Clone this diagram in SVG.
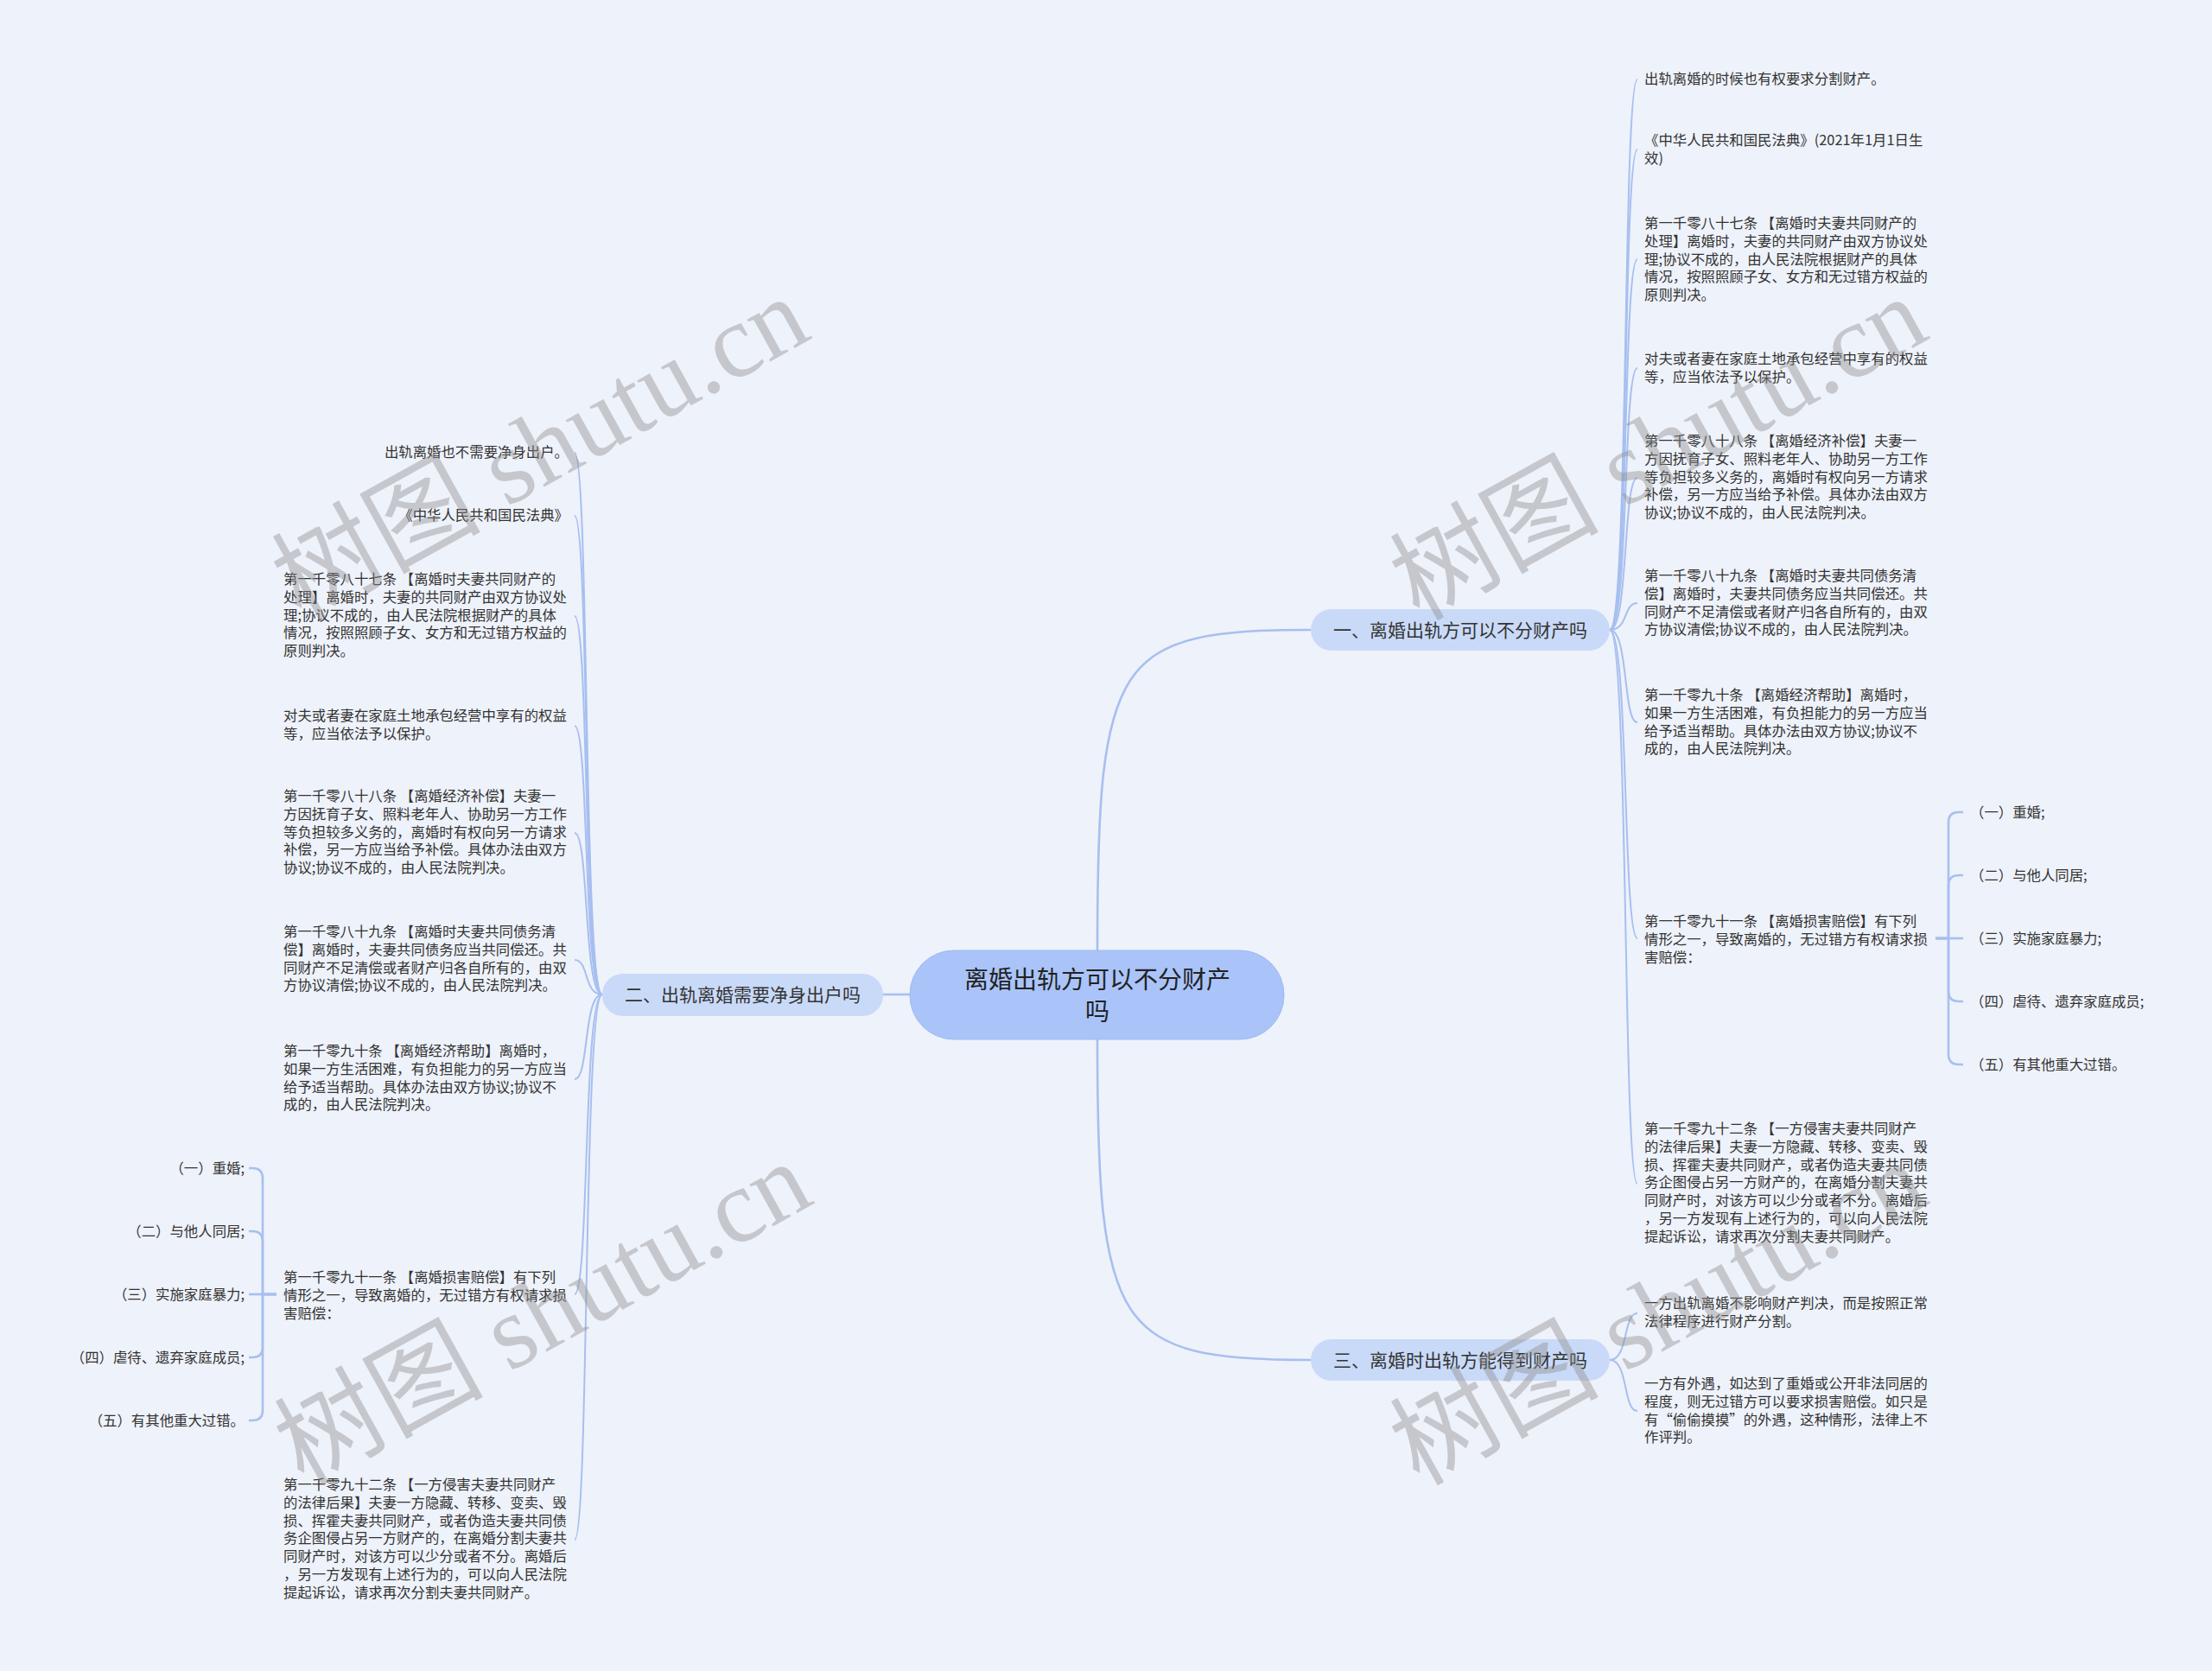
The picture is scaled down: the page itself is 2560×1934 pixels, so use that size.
<svg xmlns="http://www.w3.org/2000/svg" width="2560" height="1934" viewBox="0 0 2560 1934">
<style>
.t{font-family:"Noto Sans CJK SC","Liberation Sans",sans-serif;font-size:16.4px;fill:#333}
.br{font-family:"Noto Sans CJK SC","Liberation Sans",sans-serif;font-size:21px;fill:#333}
.ct{font-family:"Noto Sans CJK SC","Liberation Sans",sans-serif;font-size:28px;fill:#222}
.c{fill:none;stroke:#a7bff0;stroke-width:2}
.cm{fill:none;stroke:#a7bff0;stroke-width:2.6}
.wm{font-family:"Liberation Serif","Noto Sans CJK SC",serif;font-size:121px;fill:#8e8e8e;opacity:0.42}
</style>
<rect x="0" y="0" width="2560" height="1934" fill="#eef2fa"/>
<g id="connectors">
<path class="cm" d="M1270,1100 C1270,760 1290,729 1517,729"/>
<path class="cm" d="M1270,1203 C1270,1540 1290,1574 1517,1574"/>
<path class="cm" d="M1053,1151 L1022,1151"/>
<path class="c" d="M1863,729 C1885,729 1878,92 1895,92"/>
<path class="c" d="M1863,729 C1885,729 1878,173 1895,173"/>
<path class="c" d="M1863,729 C1885,729 1878,300 1895,300"/>
<path class="c" d="M1863,729 C1885,729 1878,426 1895,426"/>
<path class="c" d="M1863,729 C1885,729 1878,553 1895,553"/>
<path class="c" d="M1863,729 C1885,729 1878,698 1895,698"/>
<path class="c" d="M1863,729 C1885,729 1878,836 1895,836"/>
<path class="c" d="M1863,729 C1885,729 1878,1086 1895,1086"/>
<path class="c" d="M1863,729 C1885,729 1878,1370 1895,1370"/>
<path class="c" d="M1863,1574 C1885,1574 1878,1520 1895,1520"/>
<path class="c" d="M1863,1574 C1885,1574 1878,1633 1895,1633"/>
<path class="c" d="M697,1151 C675,1151 682,524 665,524"/>
<path class="c" d="M697,1151 C675,1151 682,597 665,597"/>
<path class="c" d="M697,1151 C675,1151 682,713 665,713"/>
<path class="c" d="M697,1151 C675,1151 682,840 665,840"/>
<path class="c" d="M697,1151 C675,1151 682,964 665,964"/>
<path class="c" d="M697,1151 C675,1151 682,1111 665,1111"/>
<path class="c" d="M697,1151 C675,1151 682,1249 665,1249"/>
<path class="c" d="M697,1151 C675,1151 682,1498 665,1498"/>
<path class="c" d="M697,1151 C675,1151 682,1782 665,1782"/>
<path class="cm" d="M2240,1086 H2255 V952 Q2255,940 2267,940 H2272"/>
<path class="cm" d="M2240,1086 H2255 V1025 Q2255,1013 2267,1013 H2272"/>
<path class="cm" d="M2240,1086 H2272"/>
<path class="cm" d="M2240,1086 H2255 V1147 Q2255,1159 2267,1159 H2272"/>
<path class="cm" d="M2240,1086 H2255 V1220 Q2255,1232 2267,1232 H2272"/>
<path class="cm" d="M320,1498 H304 V1364 Q304,1352 292,1352 H288"/>
<path class="cm" d="M320,1498 H304 V1437 Q304,1425 292,1425 H288"/>
<path class="cm" d="M320,1498 H288"/>
<path class="cm" d="M320,1498 H304 V1559 Q304,1571 292,1571 H288"/>
<path class="cm" d="M320,1498 H304 V1632 Q304,1644 292,1644 H288"/>
</g>
<g id="center">
<rect x="1053" y="1100" width="433" height="103" rx="51" fill="#aac4fa" stroke="#9fbaf3" stroke-width="1"/>
<text class="ct" x="1270" y="1144" text-anchor="middle">离婚出轨方可以不分财产</text>
<text class="ct" x="1270" y="1181" text-anchor="middle">吗</text>
</g>
<g id="branch1">
<rect x="1517" y="705" width="346" height="48" rx="24" fill="#c9daf8"/>
<text class="br" x="1690" y="737" text-anchor="middle">一、离婚出轨方可以不分财产吗</text>
</g>
<g id="branch2">
<rect x="697" y="1127" width="325" height="49" rx="24" fill="#c9daf8"/>
<text class="br" x="859.5" y="1159" text-anchor="middle">二、出轨离婚需要净身出户吗</text>
</g>
<g id="branch3">
<rect x="1517" y="1550" width="346" height="48" rx="24" fill="#c9daf8"/>
<text class="br" x="1690" y="1582" text-anchor="middle">三、离婚时出轨方能得到财产吗</text>
</g>
<g id="r1"><text class="t" x="1903" y="97">出轨离婚的时候也有权要求分割财产。</text></g>
<g id="r2"><text class="t" x="1903" y="168"><tspan x="1903">《中华人民共和国民法典》(2021年1月1日生</tspan><tspan x="1903" dy="20.8">效)</tspan></text></g>
<g id="r3"><text class="t" x="1903" y="264"><tspan x="1903">第一千零八十七条 【离婚时夫妻共同财产的</tspan><tspan x="1903" dy="20.8">处理】离婚时，夫妻的共同财产由双方协议处</tspan><tspan x="1903" dy="20.8">理;协议不成的，由人民法院根据财产的具体</tspan><tspan x="1903" dy="20.8">情况，按照照顾子女、女方和无过错方权益的</tspan><tspan x="1903" dy="20.8">原则判决。</tspan></text></g>
<g id="r4"><text class="t" x="1903" y="421"><tspan x="1903">对夫或者妻在家庭土地承包经营中享有的权益</tspan><tspan x="1903" dy="20.8">等，应当依法予以保护。</tspan></text></g>
<g id="r5"><text class="t" x="1903" y="516"><tspan x="1903">第一千零八十八条 【离婚经济补偿】夫妻一</tspan><tspan x="1903" dy="20.8">方因抚育子女、照料老年人、协助另一方工作</tspan><tspan x="1903" dy="20.8">等负担较多义务的，离婚时有权向另一方请求</tspan><tspan x="1903" dy="20.8">补偿，另一方应当给予补偿。具体办法由双方</tspan><tspan x="1903" dy="20.8">协议;协议不成的，由人民法院判决。</tspan></text></g>
<g id="r6"><text class="t" x="1903" y="672"><tspan x="1903">第一千零八十九条 【离婚时夫妻共同债务清</tspan><tspan x="1903" dy="20.8">偿】离婚时，夫妻共同债务应当共同偿还。共</tspan><tspan x="1903" dy="20.8">同财产不足清偿或者财产归各自所有的，由双</tspan><tspan x="1903" dy="20.8">方协议清偿;协议不成的，由人民法院判决。</tspan></text></g>
<g id="r7"><text class="t" x="1903" y="810"><tspan x="1903">第一千零九十条 【离婚经济帮助】离婚时，</tspan><tspan x="1903" dy="20.8">如果一方生活困难，有负担能力的另一方应当</tspan><tspan x="1903" dy="20.8">给予适当帮助。具体办法由双方协议;协议不</tspan><tspan x="1903" dy="20.8">成的，由人民法院判决。</tspan></text></g>
<g id="r8"><text class="t" x="1903" y="1072"><tspan x="1903">第一千零九十一条 【离婚损害赔偿】有下列</tspan><tspan x="1903" dy="20.8">情形之一，导致离婚的，无过错方有权请求损</tspan><tspan x="1903" dy="20.8">害赔偿：</tspan></text></g>
<g id="r8a"><text class="t" x="2280" y="946">（一）重婚;</text></g>
<g id="r8b"><text class="t" x="2280" y="1019">（二）与他人同居;</text></g>
<g id="r8c"><text class="t" x="2280" y="1092">（三）实施家庭暴力;</text></g>
<g id="r8d"><text class="t" x="2280" y="1165">（四）虐待、遗弃家庭成员;</text></g>
<g id="r8e"><text class="t" x="2280" y="1238">（五）有其他重大过错。</text></g>
<g id="r9"><text class="t" x="1903" y="1312"><tspan x="1903">第一千零九十二条 【一方侵害夫妻共同财产</tspan><tspan x="1903" dy="20.8">的法律后果】夫妻一方隐藏、转移、变卖、毁</tspan><tspan x="1903" dy="20.8">损、挥霍夫妻共同财产，或者伪造夫妻共同债</tspan><tspan x="1903" dy="20.8">务企图侵占另一方财产的，在离婚分割夫妻共</tspan><tspan x="1903" dy="20.8">同财产时，对该方可以少分或者不分。离婚后</tspan><tspan x="1903" dy="20.8">，另一方发现有上述行为的，可以向人民法院</tspan><tspan x="1903" dy="20.8">提起诉讼，请求再次分割夫妻共同财产。</tspan></text></g>
<g id="r10"><text class="t" x="1903" y="1514"><tspan x="1903">一方出轨离婚不影响财产判决，而是按照正常</tspan><tspan x="1903" dy="20.8">法律程序进行财产分割。</tspan></text></g>
<g id="r11"><text class="t" x="1903" y="1607"><tspan x="1903">一方有外遇，如达到了重婚或公开非法同居的</tspan><tspan x="1903" dy="20.8">程度，则无过错方可以要求损害赔偿。如只是</tspan><tspan x="1903" dy="20.8">有“偷偷摸摸”的外遇，这种情形，法律上不</tspan><tspan x="1903" dy="20.8">作评判。</tspan></text></g>
<g id="l1"><text class="t" x="658" y="529" text-anchor="end">出轨离婚也不需要净身出户。</text></g>
<g id="l2"><text class="t" x="658" y="602" text-anchor="end">《中华人民共和国民法典》</text></g>
<g id="l3"><text class="t" x="328" y="676"><tspan x="328">第一千零八十七条 【离婚时夫妻共同财产的</tspan><tspan x="328" dy="20.8">处理】离婚时，夫妻的共同财产由双方协议处</tspan><tspan x="328" dy="20.8">理;协议不成的，由人民法院根据财产的具体</tspan><tspan x="328" dy="20.8">情况，按照照顾子女、女方和无过错方权益的</tspan><tspan x="328" dy="20.8">原则判决。</tspan></text></g>
<g id="l4"><text class="t" x="328" y="834"><tspan x="328">对夫或者妻在家庭土地承包经营中享有的权益</tspan><tspan x="328" dy="20.8">等，应当依法予以保护。</tspan></text></g>
<g id="l5"><text class="t" x="328" y="927"><tspan x="328">第一千零八十八条 【离婚经济补偿】夫妻一</tspan><tspan x="328" dy="20.8">方因抚育子女、照料老年人、协助另一方工作</tspan><tspan x="328" dy="20.8">等负担较多义务的，离婚时有权向另一方请求</tspan><tspan x="328" dy="20.8">补偿，另一方应当给予补偿。具体办法由双方</tspan><tspan x="328" dy="20.8">协议;协议不成的，由人民法院判决。</tspan></text></g>
<g id="l6"><text class="t" x="328" y="1084"><tspan x="328">第一千零八十九条 【离婚时夫妻共同债务清</tspan><tspan x="328" dy="20.8">偿】离婚时，夫妻共同债务应当共同偿还。共</tspan><tspan x="328" dy="20.8">同财产不足清偿或者财产归各自所有的，由双</tspan><tspan x="328" dy="20.8">方协议清偿;协议不成的，由人民法院判决。</tspan></text></g>
<g id="l7"><text class="t" x="328" y="1222"><tspan x="328">第一千零九十条 【离婚经济帮助】离婚时，</tspan><tspan x="328" dy="20.8">如果一方生活困难，有负担能力的另一方应当</tspan><tspan x="328" dy="20.8">给予适当帮助。具体办法由双方协议;协议不</tspan><tspan x="328" dy="20.8">成的，由人民法院判决。</tspan></text></g>
<g id="l8"><text class="t" x="328" y="1484"><tspan x="328">第一千零九十一条 【离婚损害赔偿】有下列</tspan><tspan x="328" dy="20.8">情形之一，导致离婚的，无过错方有权请求损</tspan><tspan x="328" dy="20.8">害赔偿：</tspan></text></g>
<g id="l8a"><text class="t" x="283" y="1358" text-anchor="end">（一）重婚;</text></g>
<g id="l8b"><text class="t" x="283" y="1431" text-anchor="end">（二）与他人同居;</text></g>
<g id="l8c"><text class="t" x="283" y="1504" text-anchor="end">（三）实施家庭暴力;</text></g>
<g id="l8d"><text class="t" x="283" y="1577" text-anchor="end">（四）虐待、遗弃家庭成员;</text></g>
<g id="l8e"><text class="t" x="283" y="1650" text-anchor="end">（五）有其他重大过错。</text></g>
<g id="l9"><text class="t" x="328" y="1724"><tspan x="328">第一千零九十二条 【一方侵害夫妻共同财产</tspan><tspan x="328" dy="20.8">的法律后果】夫妻一方隐藏、转移、变卖、毁</tspan><tspan x="328" dy="20.8">损、挥霍夫妻共同财产，或者伪造夫妻共同债</tspan><tspan x="328" dy="20.8">务企图侵占另一方财产的，在离婚分割夫妻共</tspan><tspan x="328" dy="20.8">同财产时，对该方可以少分或者不分。离婚后</tspan><tspan x="328" dy="20.8">，另一方发现有上述行为的，可以向人民法院</tspan><tspan x="328" dy="20.8">提起诉讼，请求再次分割夫妻共同财产。</tspan></text></g>
<g id="watermarks">
<text class="wm" x="0" y="0" text-anchor="middle" transform="translate(645,555) rotate(-29)">树图 shutu.cn</text>
<text class="wm" x="0" y="0" text-anchor="middle" transform="translate(1939,555) rotate(-29)">树图 shutu.cn</text>
<text class="wm" x="0" y="0" text-anchor="middle" transform="translate(648,1556) rotate(-29)">树图 shutu.cn</text>
<text class="wm" x="0" y="0" text-anchor="middle" transform="translate(1939,1556) rotate(-29)">树图 shutu.cn</text>
</g>
</svg>
